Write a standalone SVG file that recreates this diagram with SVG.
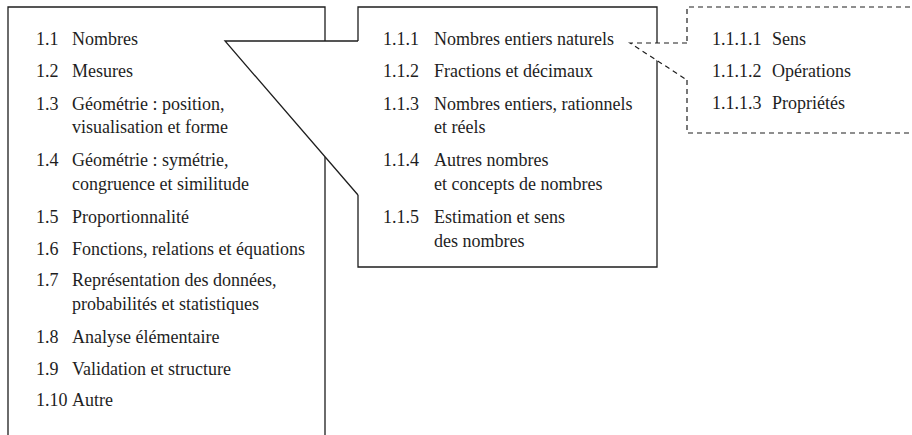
<svg xmlns="http://www.w3.org/2000/svg" width="912" height="435" viewBox="0 0 912 435">
<style>
.ln{fill:#fff;stroke:#1e1e1e;stroke-width:1.3;stroke-linejoin:miter}
.dash{fill:#fff;stroke:#1e1e1e;stroke-width:1.2;stroke-dasharray:5 4}
text{font-family:"Liberation Serif","Times New Roman",serif;font-size:18px;fill:#1e1e1e}
</style>
<rect width="912" height="435" fill="#fff"/>
<g id="n1">
  <path class="ln" d="M8,440 V7 H325 V440"/>
  <text x="36" y="45">1.1</text><text x="72" y="45">Nombres</text>
  <text x="36" y="77">1.2</text><text x="72" y="77">Mesures</text>
  <text x="36" y="110">1.3</text><text x="72" y="110">Géométrie : position,</text>
  <text x="72" y="133">visualisation et forme</text>
  <text x="36" y="166">1.4</text><text x="72" y="166">Géométrie : symétrie,</text>
  <text x="72" y="190">congruence et similitude</text>
  <text x="36" y="223">1.5</text><text x="72" y="223">Proportionnalité</text>
  <text x="36" y="255">1.6</text><text x="72" y="255">Fonctions, relations et équations</text>
  <text x="36" y="286">1.7</text><text x="72" y="286">Représentation des données,</text>
  <text x="72" y="310">probabilités et statistiques</text>
  <text x="36" y="343">1.8</text><text x="72" y="343">Analyse élémentaire</text>
  <text x="36" y="375">1.9</text><text x="72" y="375">Validation et structure</text>
  <text x="36" y="406">1.10</text><text x="72" y="406">Autre</text>
</g>
<g id="n2">
  <path class="ln" d="M358,41 V7 H657 V267 H358 V195"/>
  <text x="383" y="45">1.1.1</text><text x="434" y="45">Nombres entiers naturels</text>
  <text x="383" y="77">1.1.2</text><text x="434" y="77">Fractions et décimaux</text>
  <text x="383" y="110">1.1.3</text><text x="434" y="110">Nombres entiers, rationnels</text>
  <text x="434" y="133">et réels</text>
  <text x="383" y="166">1.1.4</text><text x="434" y="166">Autres nombres</text>
  <text x="434" y="190">et concepts de nombres</text>
  <text x="383" y="223">1.1.5</text><text x="434" y="223">Estimation et sens</text>
  <text x="434" y="247">des nombres</text>
</g>
<g id="n3">
  <path class="dash" d="M687,80 V133 H916 V7 H687 V43"/>
  <text x="712" y="45">1.1.1.1</text><text x="772" y="45">Sens</text>
  <text x="712" y="77">1.1.1.2</text><text x="772" y="77">Opérations</text>
  <text x="712" y="109">1.1.1.3</text><text x="772" y="109">Propriétés</text>
</g>
<g id="connectors">
  <path class="ln" d="M358,41 H225 L358,195"/>
  <path class="dash" d="M687,43 H630 L687,80"/>
</g>
</svg>
